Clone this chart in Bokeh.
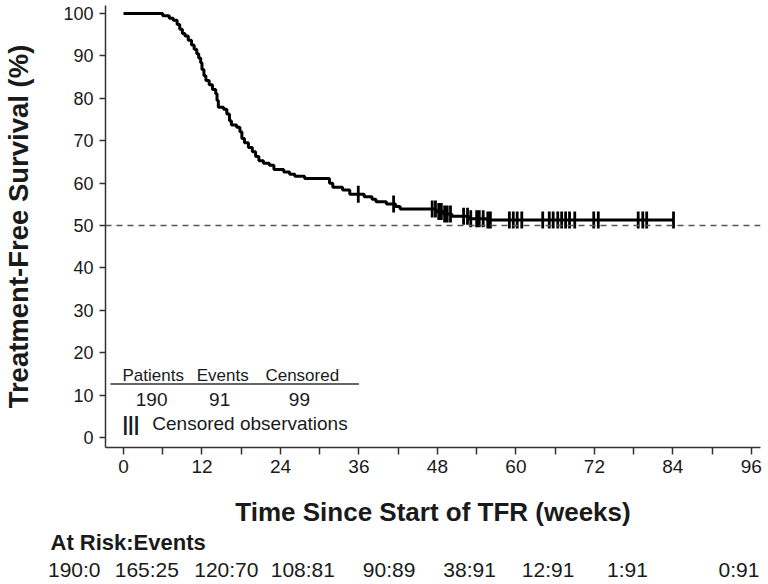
import numpy as np
from bokeh.plotting import figure
from bokeh.layouts import column
from bokeh.models import FixedTicker, Span, Label, Range1d
from bokeh.core.properties import value
from bokeh.embed import file_html
from bokeh.resources import INLINE

# ---- data ----
km_weeks = [0, 6.0, 7.0, 7.6, 8.2, 8.6, 9.0, 9.4, 9.9, 10.4, 10.8, 11.2, 11.5, 11.8,
            12.0, 12.3, 12.6, 13.1, 13.6, 14.1, 14.3, 14.5, 15.3, 15.8, 16.2, 16.5,
            17.3, 17.8, 18.1, 18.5, 19.1, 19.7, 20.2, 20.7, 21.4, 22.3, 23.0, 24.5,
            25.4, 26.2, 27.7, 31.5, 32.0, 33.5, 34.6, 36.8, 38.0, 38.6, 40.2, 41.6,
            42.3, 47.8, 48.9, 50.2, 52.8, 55.5, 84.1]
km_survival = [100, 99.5, 98.9, 98.4, 97.4, 96.3, 95.3, 94.7, 93.7, 92.6, 91.6, 90.5,
               89.5, 88.4, 86.8, 85.3, 84.2, 83.2, 82.1, 81.1, 79.5, 77.9, 77.4, 76.3,
               74.7, 73.7, 73.2, 72.1, 70.5, 69.5, 68.4, 67.4, 66.3, 65.3, 64.7, 64.2,
               63.2, 62.6, 62.1, 61.6, 61.1, 60.0, 59.0, 58.4, 57.4, 56.8, 56.2, 55.6,
               55.1, 54.5, 53.9, 53.3, 52.7, 52.2, 51.6, 51.3, 51.3]
censor_weeks = [35.9, 41.3, 47.2, 47.7, 48.2, 48.6, 49.1, 49.5, 50.0, 52.0, 52.6, 53.1,
                54.0, 54.4, 55.0, 55.7, 56.1, 59.0, 59.6, 60.2, 60.9, 64.1, 65.1, 65.7,
                66.4, 67.0, 67.6, 68.2, 69.0, 71.9, 72.6, 78.7, 79.4, 80.0, 84.1]
x_ticks = [0, 12, 24, 36, 48, 60, 72, 84, 96]
x_minor_ticks = [6, 18, 30, 42, 54, 66, 78, 90]
y_ticks = [0, 10, 20, 30, 40, 50, 60, 70, 80, 90, 100]
median_line = 50
at_risk_labels = ["190:0", "165:25", "120:70", "108:81", "90:89", "38:91", "12:91", "1:91", "0:91"]
table_headers = ["Patients", "Events", "Censored"]
table_values = ["190", "91", "99"]

FONT = "Liberation Sans"
INK = "#1a1a1a"
AX = "#333333"
W = 768
PXW = 6.54  # px per week (layout)

p = figure(width=W, height=530,
           x_range=Range1d(-18 / PXW, (760 - 123) / PXW),
           y_range=Range1d(-2.36, 101.9),
           output_backend="svg", toolbar_location=None,
           min_border_left=105, min_border_right=8, min_border_top=5, min_border_bottom=83)
p.frame_align = False
p.outline_line_color = None
p.xgrid.visible = False
p.ygrid.visible = False

# median reference line
p.add_layout(Span(location=median_line, dimension="width", line_color="#555555",
                  line_dash="6 5", line_width=1.3))

# KM curve
p.step(km_weeks, km_survival, mode="after", line_width=3, line_color="black")

# censor marks at curve level
kw = np.array(km_weeks)
ks = np.array(km_survival)
cy = [ks[np.searchsorted(kw, c, side="right") - 1] for c in censor_weeks]
p.scatter(x=censor_weeks, y=cy, marker="dash", angle=np.pi / 2, size=17,
          line_width=2.8, line_color="black")

# axes
for ax in (p.xaxis, p.yaxis):
    ax.axis_line_color = AX
    ax.axis_line_width = 1.5
    ax.major_tick_line_color = AX
    ax.major_tick_line_width = 1.5
    ax.minor_tick_line_color = AX
    ax.minor_tick_line_width = 1.5
    ax.major_tick_in = 0
    ax.minor_tick_in = 0
    ax.major_label_text_font = FONT
    ax.major_label_text_font_size = "19px"
    ax.major_label_text_color = INK
    ax.axis_label_text_font = FONT
    ax.axis_label_text_font_style = "bold"
    ax.axis_label_text_color = INK

p.xaxis.ticker = FixedTicker(ticks=x_ticks, minor_ticks=x_minor_ticks)
p.xaxis.major_tick_out = 7
p.xaxis.minor_tick_out = 7
p.xaxis.major_label_standoff = 5
p.xaxis.axis_label = "Time Since Start of TFR (weeks)"
p.xaxis.axis_label_text_font_size = "26px"
p.xaxis.axis_label_standoff = 21

p.yaxis.ticker = FixedTicker(ticks=y_ticks, minor_ticks=[])
p.yaxis.major_tick_out = 6
p.yaxis.minor_tick_out = 0
p.yaxis.major_label_standoff = 6
p.yaxis.major_label_text_font_size = "18px"
p.yaxis.axis_label = "Treatment-Free Survival (%)"
p.yaxis.axis_label_text_font_size = "27.5px"
p.yaxis.axis_label_standoff = 26

# summary table inside the plot
hdr_x = [-0.15, 11.2, 21.7]
for t, x in zip(table_headers, hdr_x):
    p.add_layout(Label(x=x, y=14.6, text=t, text_font=FONT, text_font_size="17px",
                       text_color=INK, text_baseline="middle", text_align="left"))
p.segment(x0=[-2.0], y0=[12.6], x1=[36.0], y1=[12.6], line_color=AX, line_width=1.5)
val_x = [4.3, 14.7, 26.9]
for t, x in zip(table_values, val_x):
    p.add_layout(Label(x=x, y=9.0, text=t, text_font=FONT, text_font_size="19px",
                       text_color=INK, text_baseline="middle", text_align="center"))
p.add_layout(Label(x=-0.15, y=3.3, text="|||", text_font=FONT, text_font_style="bold",
                   text_font_size="20px", text_color=INK, text_baseline="middle"))
p.add_layout(Label(x=4.4, y=3.3, text="Censored observations", text_font=FONT,
                   text_font_size="19px", text_color=INK, text_baseline="middle"))

# at-risk rows (separate strip figure on the same week scale, full canvas width)
r = figure(width=W, height=54,
           x_range=Range1d(-123 / PXW, (W - 123) / PXW), y_range=Range1d(0, 54),
           output_backend="svg", toolbar_location=None,
           x_axis_type=None, y_axis_type=None,
           min_border_left=0, min_border_right=0, min_border_top=0, min_border_bottom=0)
r.frame_align = False
r.outline_line_color = None
r.xgrid.visible = False
r.ygrid.visible = False
r.text(x=[(50 - 123) / PXW], y=[42], text=["At Risk:Events"],
       text_font=value(FONT), text_font_style="bold", text_font_size="22px",
       text_color=INK, text_baseline="middle", text_align="left")
risk_offsets = [-23, -23, -22, -24, -22, -20, -20, -25, 8]
r.text(x=x_ticks, y=[15] * len(x_ticks), text=at_risk_labels, x_offset=risk_offsets,
       text_font=value(FONT), text_font_size="21px", text_color=INK,
       text_baseline="middle", text_align="right")

layout = column(p, r, spacing=0)
open("out.html", "w").write(file_html(layout, INLINE))
